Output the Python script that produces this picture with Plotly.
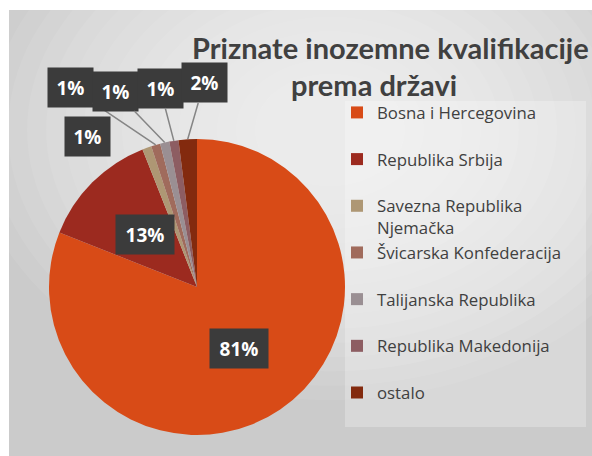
import math
import plotly.graph_objects as go

# ---------------- data ----------------
categories = [
    "Bosna i Hercegovina",
    "Republika Srbija",
    "Savezna Republika Njemačka",
    "Švicarska Konfederacija",
    "Talijanska Republika",
    "Republika Makedonija",
    "ostalo",
]
legend_labels = [
    "Bosna i Hercegovina<br> ",
    "Republika Srbija<br> ",
    "Savezna Republika<br>Njemačka",
    "Švicarska Konfederacija<br> ",
    "Talijanska Republika<br> ",
    "Republika Makedonija<br> ",
    "ostalo",
]
values = [81, 13, 1, 1, 1, 1, 2]
pct_labels = ["81%", "13%", "1%", "1%", "1%", "1%", "2%"]
colors = ["#D84B17", "#9C2A1F", "#AE9774", "#A06B5C", "#9A8F93", "#8D5D62", "#832A0E"]

title_line1 = "Priznate inozemne kvalifikacije"
title_line2 = "prema državi"

# ---------------- layout geometry (pixels) ----------------
W, H = 592, 456
cx, cy, r = 197, 287, 148
# outside label box centres (pixel) for the small slices; None = inside label
outside_boxes = [None, None, (87, 136), (70, 87), (115, 91), (160, 88), (204, 83)]
show_leader = [False, False, False, True, True, True, True]


def px2paper(x, y):
    return x / W, (H - y) / H


fig = go.Figure(
    go.Pie(
        labels=legend_labels,
        values=values,
        marker=dict(colors=colors, line=dict(width=0)),
        sort=False,
        direction="clockwise",
        rotation=0,
        textinfo="none",
        hoverinfo="skip",
        domain=dict(
            x=[(cx - r) / W, (cx + r) / W],
            y=[(H - cy - r) / H, (H - cy + r) / H],
        ),
    )
)

# background panel with a soft radial glow
shapes = [
    dict(type="rect", xref="paper", yref="paper", x0=9 / W, x1=1, y0=0, y1=(H - 10) / H,
         fillcolor="#cbcbcb", line=dict(width=0), layer="below"),
]
gx, gy = 330, 130
n_rings = 16
for k in range(n_rings):
    rad = 360 - k * 19
    x0, y1 = px2paper(gx - rad, gy - rad * 0.75)
    x1, y0 = px2paper(gx + rad, gy + rad * 0.75)
    shapes.append(dict(type="circle", xref="paper", yref="paper", x0=x0, x1=x1, y0=y0, y1=y1,
                       fillcolor="rgba(255,255,255,0.075)", line=dict(width=0), layer="below"))
# legend panel
lx0, ly1 = px2paper(345, 101)
lx1, ly0 = px2paper(586, 427)
shapes.append(dict(type="rect", xref="paper", yref="paper", x0=lx0, x1=lx1, y0=ly0, y1=ly1,
                   fillcolor="rgba(255,255,255,0.25)", line=dict(width=0), layer="below"))

annotations = []
total = sum(values)
cum = 0
angles = []
for v in values:
    angles.append(2 * math.pi * (cum + v / 2) / total)
    cum += v

order = [0, 1, 3, 4, 5, 6, 2]
for i in order:
    th = angles[i]
    box = outside_boxes[i]
    wide = len(pct_labels[i]) > 2
    common = dict(
        text="<b>" + pct_labels[i] + "</b>",
        font=dict(family="Open Sans", size=19, color="white"),
        bgcolor="#3b3b3b",
        borderpad=6,
        width=46 if wide else 33,
        height=27,
        xref="paper", yref="paper",
    )
    if box is None:
        px = cx + 0.5 * r * math.sin(th)
        py = cy - 0.5 * r * math.cos(th)
        x, y = px2paper(px, py)
        annotations.append(dict(x=x, y=y, showarrow=False,
                                xanchor="center", yanchor="middle", **common))
    else:
        ex = cx + r * math.sin(th)
        ey = cy - r * math.cos(th)
        x, y = px2paper(ex, ey)
        annotations.append(dict(
            x=x, y=y, ax=box[0] - ex, ay=box[1] - ey, showarrow=True,
            arrowhead=0, arrowwidth=1.5, standoff=0,
            arrowcolor="#858585" if show_leader[i] else "rgba(0,0,0,0)",
            **common))

# title
for txt, (tx, ty) in [(title_line1, (390, 47)), (title_line2, (374, 84))]:
    x, y = px2paper(tx, ty)
    annotations.append(dict(
        text="<b>" + txt + "</b>", x=x, y=y, xref="paper", yref="paper",
        showarrow=False, xanchor="center", yanchor="middle",
        font=dict(family="Lato", size=29, color="#404040"),
    ))

fig.update_layout(
    width=W, height=H,
    margin=dict(l=0, r=0, t=0, b=0),
    paper_bgcolor="white",
    plot_bgcolor="white",
    shapes=shapes,
    annotations=annotations,
    showlegend=True,
    legend=dict(
        x=337 / W, y=(H - 95) / H, xanchor="left", yanchor="top",
        bgcolor="rgba(0,0,0,0)",
        font=dict(family="Open Sans", size=16.8, color="#404040"),
        valign="top",
        itemwidth=30,
        traceorder="normal",
    ),
)

fig.write_html("out.html", config={"displayModeBar": False},
               post_script="document.body.style.margin='0px';")
